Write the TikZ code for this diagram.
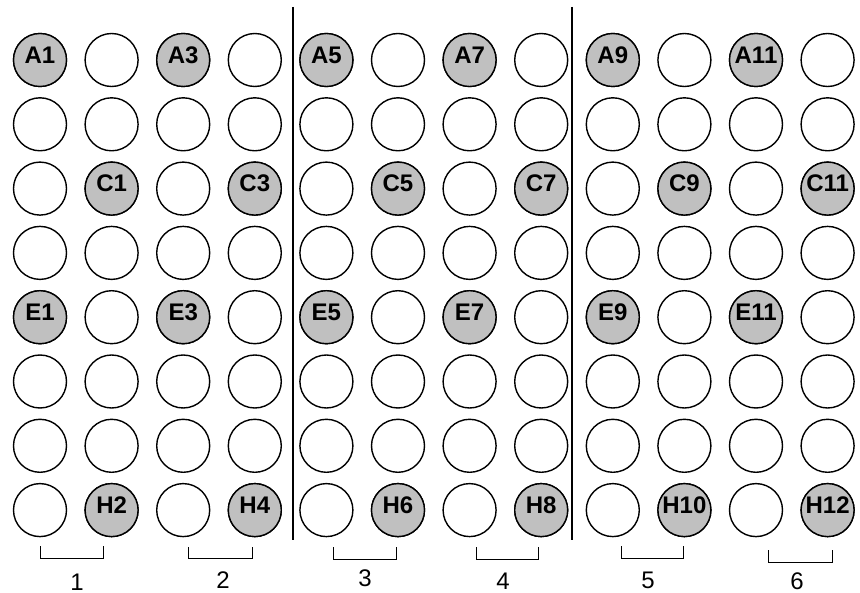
\documentclass[tikz,border=0pt]{standalone}
\usepackage{fontspec}
\setmainfont{Liberation Sans}
\definecolor{WELLGRAY}{HTML}{C0C0C0}
\usetikzlibrary{calc}

\begin{document}
\begin{tikzpicture}[x=1pt, y=-1pt,
  %% Empty wells — white with black rim
  well/.style={
    draw=black, fill=white, circle, line width=1.4pt,
    minimum size=53pt, inner sep=0pt
  },
  %% Sample wells — grey fill, bold well name
  swell/.style={
    well, fill=WELLGRAY,
    font=\fontsize{24}{28}\selectfont\bfseries, text depth=10pt
  },
  %% Plate dividers and group brackets
  sep/.style={line width=1.6pt, black},
  brkt/.style={line width=0.9pt, black},
  grp/.style={font=\fontsize{24}{28}\selectfont, inner sep=0pt}
]
\useasboundingbox (0,0) rectangle (860,593);

%% ── Plate: 8 rows x 12 columns ───────────────────────────────
\foreach \r in {1,...,8}
  \foreach \c in {1,...,12}
    \node[well] (w\r-\c) at ({40+71.6*(\c-1)}, {60+64.3*(\r-1)}) {};

%% ── Sample wells ─────────────────────────────────────────────
\foreach \c/\t in {1/A1,3/A3,5/A5,7/A7,9/A9,11/A11}
  \node[swell] (s\t) at (w1-\c) {\t};
\foreach \c/\t in {2/C1,4/C3,6/C5,8/C7,10/C9,12/C11}
  \node[swell] (s\t) at (w3-\c) {\t};
\foreach \c/\t in {1/E1,3/E3,5/E5,7/E7,9/E9,11/E11}
  \node[swell] (s\t) at (w5-\c) {\t};
\foreach \c/\t in {2/H2,4/H4,6/H6,8/H8,10/H10,12/H12}
  \node[swell] (s\t) at (w8-\c) {\t};

%% ── Dividers ─────────────────────────────────────────────────
\coordinate (d1t) at (293,7);   \coordinate (d1b) at (293,540);
\coordinate (d2t) at (572,7);   \coordinate (d2b) at (572,540);
\draw[sep] (d1t) -- (d1b);
\draw[sep] (d2t) -- (d2b);

%% ── Group brackets ───────────────────────────────────────────
\draw[brkt] (40,546)  |- (103,558) -- (103,546);
\draw[brkt] (188,547) |- (252,558) -- (252,547);
\draw[brkt] (333,547) |- (396,559) -- (396,547);
\draw[brkt] (476,547) |- (538,559) -- (538,547);
\draw[brkt] (621,546) |- (683,558) -- (683,546);
\draw[brkt] (768,550) |- (832,562) -- (832,550);

\node[grp] (g1) at (77,582)  {1};
\node[grp] (g2) at (223,580) {2};
\node[grp] (g3) at (365,578) {3};
\node[grp] (g4) at (503,581) {4};
\node[grp] (g5) at (648,580) {5};
\node[grp] (g6) at (797,581) {6};

\end{tikzpicture}
\end{document}
